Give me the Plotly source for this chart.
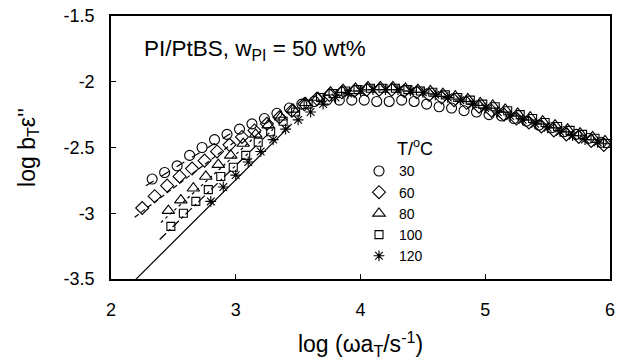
import plotly.graph_objects as go

# ---- data ----
temps = ["30", "60", "80", "100", "120"]

x30 = [2.33,2.43,2.53,2.63,2.73,2.83,2.93,3.03,3.13,3.23,3.33,3.43,3.53,3.63,3.73,3.83,3.93,4.03,4.13,4.23,
       4.33,4.43,4.53,4.63,4.73,4.83,4.93,5.03,5.13,5.23,5.33,5.43,5.53,5.63,5.73,5.83,5.93]
y30 = [-2.74,-2.69,-2.64,-2.56,-2.50,-2.44,-2.40,-2.36,-2.32,-2.28,-2.24,-2.20,-2.17,-2.15,-2.14,-2.14,-2.14,-2.14,-2.15,-2.15,
       -2.14,-2.15,-2.17,-2.19,-2.20,-2.22,-2.23,-2.25,-2.26,-2.28,-2.30,-2.33,-2.35,-2.38,-2.40,-2.43,-2.46]

x60 = [2.25,2.35,2.45,2.55,2.65,2.75,2.85,2.95,3.05,3.15,3.25,3.35,3.45,3.55,3.65,3.75,3.85,3.95,4.05,4.15,
       4.25,4.35,4.45,4.55,4.65,4.75,4.85,4.95,5.05,5.15,5.25,5.35,5.45,5.55,5.65,5.75,5.85,5.95]
y60 = [-2.96,-2.87,-2.79,-2.72,-2.66,-2.60,-2.53,-2.48,-2.42,-2.37,-2.32,-2.27,-2.22,-2.17,-2.13,-2.10,-2.08,-2.07,-2.06,-2.06,
       -2.06,-2.07,-2.08,-2.10,-2.12,-2.14,-2.16,-2.19,-2.22,-2.25,-2.28,-2.31,-2.34,-2.37,-2.40,-2.42,-2.45,-2.48]

x80 = [2.46,2.56,2.66,2.76,2.86,2.96,3.06,3.16,3.26,3.36,3.46,3.56,3.66,3.76,3.86,3.96,4.06,4.16,4.26,4.36,
       4.46,4.56,4.66,4.76,4.86,4.96,5.06,5.16,5.26,5.36,5.46,5.56,5.66,5.76,5.86,5.96]
y80 = [-2.98,-2.90,-2.81,-2.72,-2.63,-2.56,-2.47,-2.40,-2.33,-2.27,-2.21,-2.16,-2.12,-2.08,-2.06,-2.05,-2.04,-2.04,-2.04,-2.05,
       -2.06,-2.07,-2.09,-2.11,-2.13,-2.16,-2.18,-2.21,-2.24,-2.27,-2.30,-2.33,-2.36,-2.39,-2.42,-2.45]

x100 = [2.48,2.58,2.68,2.78,2.88,2.98,3.08,3.18,3.28,3.38,3.48,3.58,3.68,3.78,3.88,3.98,4.08,4.18,4.28,4.38,
        4.48,4.58,4.68,4.78,4.88,4.98,5.08,5.18,5.28,5.38,5.48,5.58,5.68,5.78,5.88,5.98]
y100 = [-3.10,-3.00,-2.91,-2.82,-2.72,-2.65,-2.56,-2.46,-2.38,-2.30,-2.23,-2.17,-2.12,-2.09,-2.07,-2.06,-2.05,-2.05,-2.05,-2.06,
        -2.07,-2.08,-2.10,-2.12,-2.14,-2.17,-2.19,-2.22,-2.25,-2.28,-2.31,-2.34,-2.37,-2.40,-2.43,-2.47]

x120 = [2.80,2.90,3.00,3.10,3.20,3.30,3.40,3.50,3.60,3.70,3.80,3.90,4.00,4.10,4.20,4.30,4.40,4.50,4.60,4.70,
        4.80,4.90,5.00,5.10,5.20,5.30,5.40,5.50,5.60,5.70,5.80,5.90]
y120 = [-2.91,-2.80,-2.71,-2.61,-2.53,-2.44,-2.36,-2.29,-2.23,-2.17,-2.12,-2.09,-2.07,-2.06,-2.06,-2.06,-2.07,-2.08,-2.10,-2.12,
        -2.14,-2.17,-2.20,-2.23,-2.26,-2.29,-2.32,-2.35,-2.38,-2.41,-2.44,-2.46]

# low-frequency fit lines (start/end)
fit_x = [[2.28, 3.00], [2.19, 3.00], [2.40, 3.20], [2.39, 3.30], [2.17, 3.45]]
fit_y = [[-2.79, -2.37], [-3.03, -2.45], [-3.07, -2.38], [-3.20, -2.36], [-3.53, -2.32]]

x_ticks = [2, 3, 4, 5, 6]
y_ticks = [-3.5, -3, -2.5, -2, -1.5]
y_ticktext = ["-3.5", "-3", "-2.5", "-2", "-1.5"]

xs = [x30, x60, x80, x100, x120]
ys = [y30, y60, y80, y100, y120]
symbols = ["circle-open", "diamond-open", "triangle-up-open", "square-open", "asterisk-open"]
sizes = [10, 10, 11, 8, 9]
dashes = ["dash", "5px,3px", "dot", "dashdot", "solid"]

FONT = "Liberation Sans, Arial, Helvetica, sans-serif"

fig = go.Figure()
for i in range(5):
    fig.add_trace(go.Scatter(x=fit_x[i], y=fit_y[i], mode="lines",
                             line=dict(color="black", width=1.2, dash=dashes[i]),
                             showlegend=False, hoverinfo="skip"))
for i in range(5):
    fig.add_trace(go.Scatter(x=xs[i], y=ys[i], mode="markers", name=temps[i],
                             marker=dict(symbol=symbols[i], size=sizes[i], color="black",
                                         line=dict(color="black", width=1.1))))

fig.update_layout(
    width=617, height=363,
    margin=dict(l=111, r=7, t=16, b=84, autoexpand=False),
    paper_bgcolor="white", plot_bgcolor="white",
    font=dict(family=FONT, size=18, color="black"),
    showlegend=True,
    legend=dict(x=0.497, y=0.47, xanchor="left", yanchor="top",
                bgcolor="rgba(0,0,0,0)", font=dict(size=14),
                tracegroupgap=0, itemwidth=30),
    xaxis=dict(range=[2, 6], tickvals=x_ticks, ticks="inside", ticklen=5,
               tickcolor="black", showline=True, linecolor="black", linewidth=1.5,
               mirror=True, showgrid=False, zeroline=False, ticklabelstandoff=14,
               automargin=False, tickfont=dict(size=18),
               title=dict(text="log (ωa<sub>T</sub>/s<sup>-1</sup>)", font=dict(size=23), standoff=17)),
    yaxis=dict(range=[-3.5, -1.5], tickvals=y_ticks, ticktext=y_ticktext,
               ticks="inside", ticklen=5,
               tickcolor="black", showline=True, linecolor="black", linewidth=1.5,
               mirror=True, showgrid=False, zeroline=False, ticklabelstandoff=11,
               automargin=False, tickfont=dict(size=18),
               title=dict(text="log b<sub>T</sub>ε''", font=dict(size=23), standoff=22)),
    annotations=[
        dict(text="PI/PtBS, w<sub>PI</sub> = 50 wt%", xref="paper", yref="paper",
             x=(142 - 111) / 499, y=(279 - 50) / 263, xanchor="left", yanchor="middle",
             showarrow=False, font=dict(size=22.5)),
        dict(text="T/<sup>o</sup>C", xref="paper", yref="paper",
             x=(395 - 111) / 499, y=(279 - 147) / 263, xanchor="left", yanchor="middle",
             showarrow=False, font=dict(size=18)),
    ],
)

fig.write_html("out.html", config={"displayModeBar": False},
               post_script="document.body.style.margin='0px';")
